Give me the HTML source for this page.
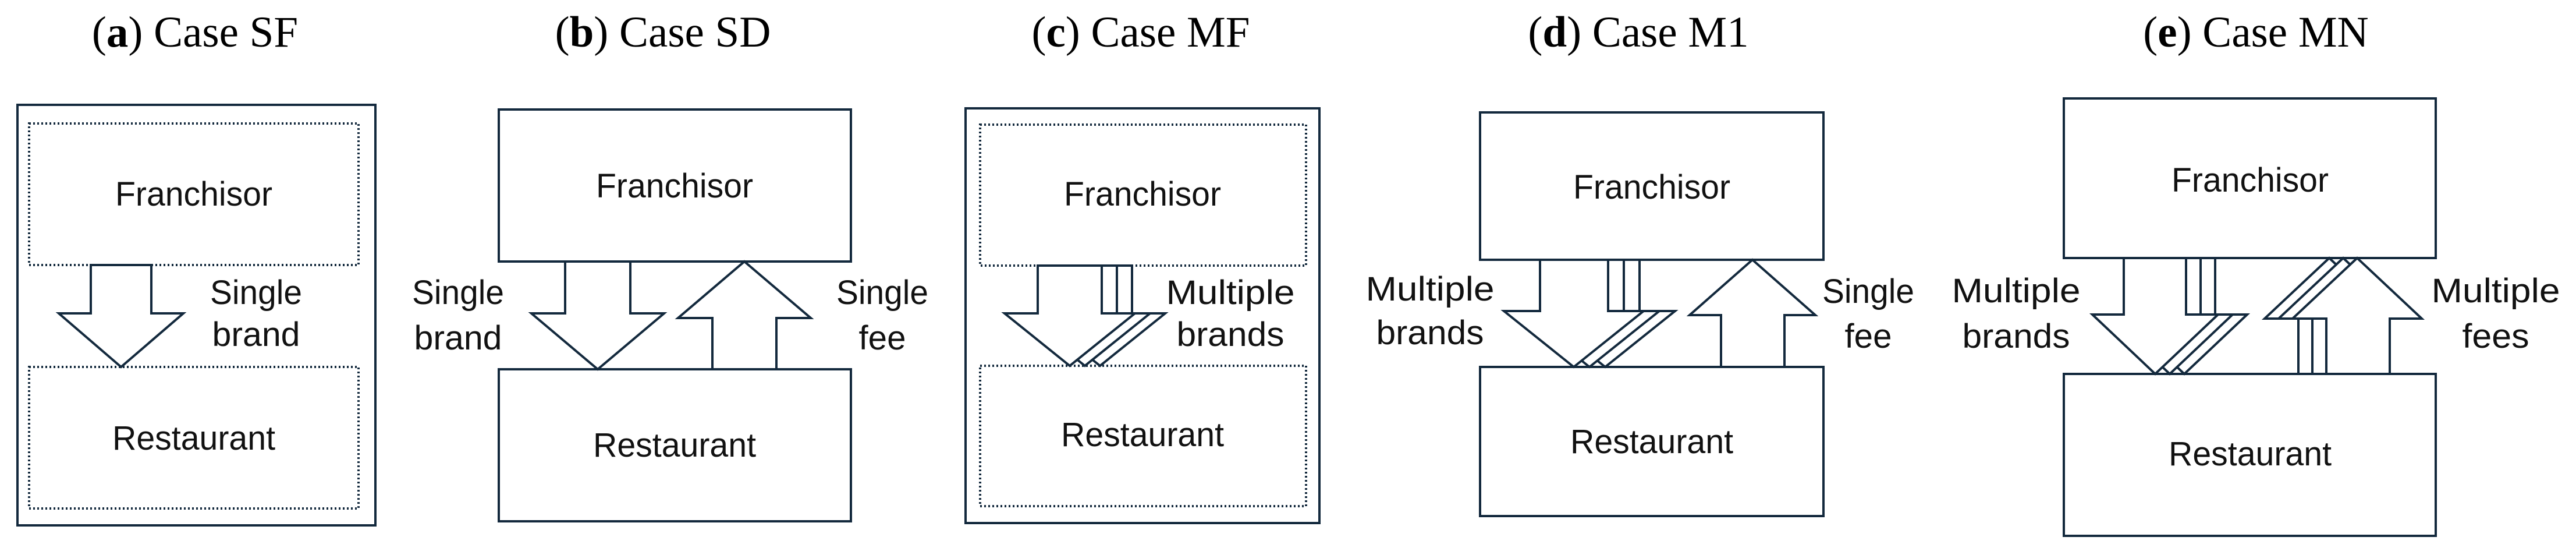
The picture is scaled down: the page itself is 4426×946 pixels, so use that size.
<!DOCTYPE html>
<html><head><meta charset="utf-8"><style>html,body{margin:0;padding:0;background:#fff}svg{display:block}</style></head>
<body>
<svg width="4426" height="946" viewBox="0 0 4426 946" xmlns="http://www.w3.org/2000/svg">
<g font-family="Liberation Serif, serif" font-size="75" fill="#000" text-anchor="middle">
<text x="335" y="80">(<tspan font-weight="bold">a</tspan>) Case SF</text>
<text x="1139" y="80">(<tspan font-weight="bold">b</tspan>) Case SD</text>
<text x="1960" y="80">(<tspan font-weight="bold">c</tspan>) Case MF</text>
<text x="2815" y="80">(<tspan font-weight="bold">d</tspan>) Case M1</text>
<text x="3876" y="80">(<tspan font-weight="bold">e</tspan>) Case MN</text>
</g>
<g fill="none" stroke="#13293d" stroke-width="4">
<!-- a -->
<rect x="30" y="180" width="615" height="722"/>
<rect x="50" y="212" width="566" height="243" stroke-dasharray="3 4"/>
<rect x="50" y="630" width="566" height="243" stroke-dasharray="3 4"/>
<!-- b -->
<rect x="857" y="188" width="605" height="261"/>
<rect x="857" y="634" width="605" height="261"/>
<!-- c -->
<rect x="1659" y="186" width="608" height="712"/>
<rect x="1684" y="214" width="560" height="242" stroke-dasharray="3 4"/>
<rect x="1684" y="628" width="560" height="241" stroke-dasharray="3 4"/>
<!-- d -->
<rect x="2543" y="193" width="590" height="253"/>
<rect x="2543" y="630" width="590" height="256"/>
<!-- e -->
<rect x="3546" y="169" width="639" height="274"/>
<rect x="3546" y="642" width="639" height="278"/>
</g>
<g fill="#fff" stroke="#13293d" stroke-width="4" stroke-linejoin="miter">
<!-- a down -->
<polygon points="156,455 260,455 260,538 315,538 208,630 101,538 156,538"/>
<!-- b down / up -->
<polygon points="971,449 1083,449 1083,538 1141,538 1027,634 913,538 971,538"/>
<polygon points="1224,634 1334,634 1334,546 1393,546 1279,449 1165,546 1224,546"/>
<!-- c down multi -->
<polygon points="1835,456 1945,456 1945,538 2002,538 1890,628 1778,538 1835,538"/>
<polygon points="1809,456 1919,456 1919,538 1976,538 1864,628 1752,538 1809,538"/>
<polygon points="1783,456 1893,456 1893,538 1950,538 1838,628 1726,538 1783,538"/>
<!-- d down multi -->
<polygon points="2700,446 2817,446 2817,534 2878,534 2758,630 2638,534 2700,534"/>
<polygon points="2673,446 2790,446 2790,534 2851,534 2731,630 2611,534 2673,534"/>
<polygon points="2646,446 2763,446 2763,534 2824,534 2704,630 2584,534 2646,534"/>
<!-- d up -->
<polygon points="2957,630 3066,630 3066,541 3119,541 3011,446 2903,541 2957,541"/>
<!-- e down multi -->
<polygon points="3699,443 3806,443 3806,540 3861,540 3753,642 3645,540 3699,540"/>
<polygon points="3674,443 3781,443 3781,540 3836,540 3728,642 3620,540 3674,540"/>
<polygon points="3649,443 3756,443 3756,540 3811,540 3703,642 3595,540 3649,540"/>
<!-- e up multi -->
<polygon points="3949,642 4058,642 4058,547 4113,547 4002,443 3891,547 3949,547"/>
<polygon points="3973,642 4082,642 4082,547 4137,547 4026,443 3915,547 3973,547"/>
<polygon points="3997,642 4106,642 4106,547 4161,547 4050,443 3939,547 3997,547"/>
</g>
<g font-family="Liberation Sans, sans-serif" font-size="58" fill="#111" text-anchor="middle" lengthAdjust="spacingAndGlyphs">
<text x="333" y="353" textLength="270" lengthAdjust="spacingAndGlyphs">Franchisor</text>
<text x="333" y="772" textLength="280" lengthAdjust="spacingAndGlyphs">Restaurant</text>
<text x="440" y="522" textLength="158" lengthAdjust="spacingAndGlyphs">Single</text>
<text x="440" y="594" textLength="151" lengthAdjust="spacingAndGlyphs">brand</text>

<text x="1159" y="339" textLength="270" lengthAdjust="spacingAndGlyphs">Franchisor</text>
<text x="1159" y="784" textLength="280" lengthAdjust="spacingAndGlyphs">Restaurant</text>
<text x="787" y="522" textLength="158" lengthAdjust="spacingAndGlyphs">Single</text>
<text x="787" y="600" textLength="151" lengthAdjust="spacingAndGlyphs">brand</text>
<text x="1516" y="522" textLength="158" lengthAdjust="spacingAndGlyphs">Single</text>
<text x="1516" y="600" textLength="81" lengthAdjust="spacingAndGlyphs">fee</text>

<text x="1963" y="353" textLength="270" lengthAdjust="spacingAndGlyphs">Franchisor</text>
<text x="1963" y="766" textLength="280" lengthAdjust="spacingAndGlyphs">Restaurant</text>
<text x="2114" y="522" textLength="221" lengthAdjust="spacingAndGlyphs">Multiple</text>
<text x="2114" y="594" textLength="185" lengthAdjust="spacingAndGlyphs">brands</text>

<text x="2838" y="341" textLength="270" lengthAdjust="spacingAndGlyphs">Franchisor</text>
<text x="2838" y="778" textLength="280" lengthAdjust="spacingAndGlyphs">Restaurant</text>
<text x="2457" y="516" textLength="221" lengthAdjust="spacingAndGlyphs">Multiple</text>
<text x="2457" y="591" textLength="185" lengthAdjust="spacingAndGlyphs">brands</text>
<text x="3210" y="520" textLength="158" lengthAdjust="spacingAndGlyphs">Single</text>
<text x="3210" y="597" textLength="81" lengthAdjust="spacingAndGlyphs">fee</text>

<text x="3866" y="329" textLength="270" lengthAdjust="spacingAndGlyphs">Franchisor</text>
<text x="3866" y="799" textLength="280" lengthAdjust="spacingAndGlyphs">Restaurant</text>
<text x="3464" y="519" textLength="221" lengthAdjust="spacingAndGlyphs">Multiple</text>
<text x="3464" y="597" textLength="185" lengthAdjust="spacingAndGlyphs">brands</text>
<text x="4288" y="519" textLength="221" lengthAdjust="spacingAndGlyphs">Multiple</text>
<text x="4288" y="597" textLength="115" lengthAdjust="spacingAndGlyphs">fees</text>
</g>
</svg>
</body></html>
